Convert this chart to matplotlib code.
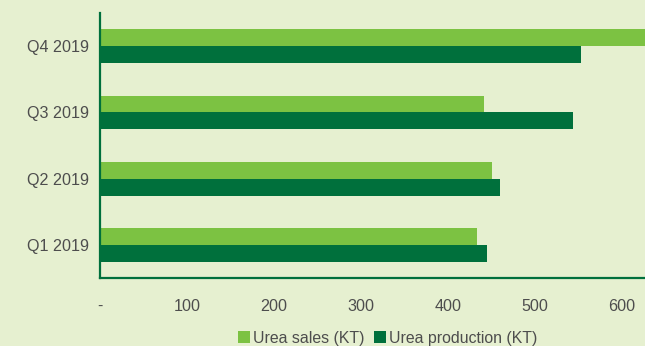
import numpy as np
import matplotlib.pyplot as plt
from matplotlib.ticker import FuncFormatter

quarters = ['Q1 2019', 'Q2 2019', 'Q3 2019', 'Q4 2019']
urea_sales = [434, 451, 442, 628]
urea_production = [445, 460, 544, 553]

bg = '#e6f0d0'
light_green = '#7cc242'
dark_green = '#00703c'
text_gray = '#4d4d4d'

plt.rcParams['font.family'] = ['Liberation Sans', 'DejaVu Sans']

fig = plt.figure(figsize=(6.45, 3.46), dpi=100, facecolor=bg)
ax = fig.add_axes([0.155, 0.1965, 0.845, 0.7655], facecolor=bg)

y = np.arange(len(quarters))
h = 0.255
ax.barh(y + h / 2, urea_sales, height=h, color=light_green, label='Urea sales (KT)')
ax.barh(y - h / 2, urea_production, height=h, color=dark_green, label='Urea production (KT)')

ax.set_xlim(0, 627)
ax.set_ylim(-0.5, 3.5)
ax.set_yticks(y)
ax.set_yticklabels(quarters)
ax.set_xticks([0, 100, 200, 300, 400, 500, 600])
ax.xaxis.set_major_formatter(FuncFormatter(lambda v, p: '-' if v == 0 else f'{v:.0f}'))

ax.tick_params(axis='both', length=0, labelsize=11.6, labelcolor=text_gray)
ax.tick_params(axis='x', pad=15)
ax.tick_params(axis='y', pad=8)

for side in ['top', 'right']:
    ax.spines[side].set_visible(False)
for side in ['left', 'bottom']:
    ax.spines[side].set_color(dark_green)
    ax.spines[side].set_linewidth(1.6)

fig.legend(loc='center', bbox_to_anchor=(0.601, 0.023), ncol=2, frameon=False,
           fontsize=11.4, handlelength=0.75, handleheight=0.75, handletextpad=0.2,
           columnspacing=0.6, labelcolor=text_gray, borderaxespad=0)

fig.savefig('out.png', dpi=100, facecolor=bg)
